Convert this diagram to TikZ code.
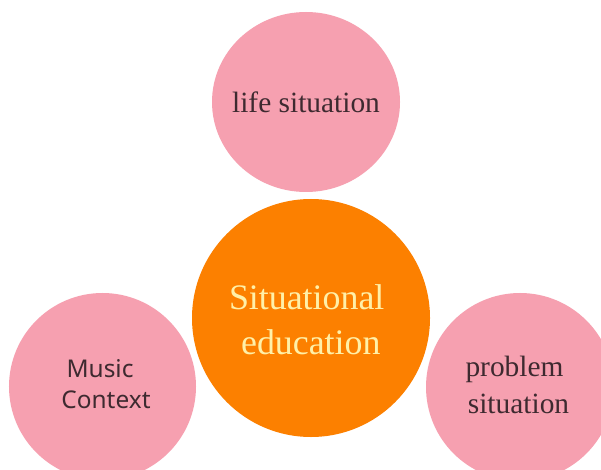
\documentclass[tikz,border=0pt]{standalone}
\usepackage{fontspec}
\setmainfont{Liberation Serif}
\newfontfamily\yaheilike{Noto Sans}
\usetikzlibrary{shapes.geometric}
\definecolor{pinkc}{HTML}{F6A0B0}
\definecolor{orangec}{HTML}{FC8000}
\definecolor{labeltext}{HTML}{3E2A30}
\definecolor{centertext}{HTML}{FFF0A8}
\begin{document}
\begin{tikzpicture}[x=1bp,y=-1bp,
  bubble/.style={ellipse, fill=pinkc, draw=none, inner sep=0pt},
  core/.style={ellipse, fill=orangec, draw=none, inner sep=0pt},
  serlabel/.style={anchor=base, inner sep=0pt, text=labeltext, font=\fontsize{29.5}{35}\selectfont},
  sanslabel/.style={anchor=base, inner sep=0pt, text=labeltext, font=\yaheilike\fontsize{24.5}{29}\selectfont},
  corelabel/.style={anchor=base, inner sep=0pt, text=centertext, font=\fontsize{36}{44}\selectfont}]
\useasboundingbox (0,0) rectangle (601,470);
\fill[white] (0,0) rectangle (601,470);
\clip (0,0) rectangle (601,470);
% circles
\node[bubble, minimum width=188bp, minimum height=180bp] (life) at (306,102) {};
\node[core, minimum width=238bp, minimum height=238bp] (center) at (311,318) {};
\node[bubble, minimum width=187bp, minimum height=187bp] (music) at (102.5,386.5) {};
\node[bubble, minimum width=188bp, minimum height=188bp] (problem) at (520,387) {};
% labels
\node[serlabel] (lifet) at (306,112.7) {life situation};
\node[corelabel] (core1) at (306.7,309) {Situational};
\node[corelabel] (core2) at (310.8,354) {education};
\node[sanslabel] (mus1) at (100,377) {Music};
\node[sanslabel] (mus2) at (106,408.5) {Context};
\node[serlabel] (prob1) at (514.5,376.7) {problem};
\node[serlabel] (prob2) at (518.5,413) {situation};
\end{tikzpicture}
\end{document}
